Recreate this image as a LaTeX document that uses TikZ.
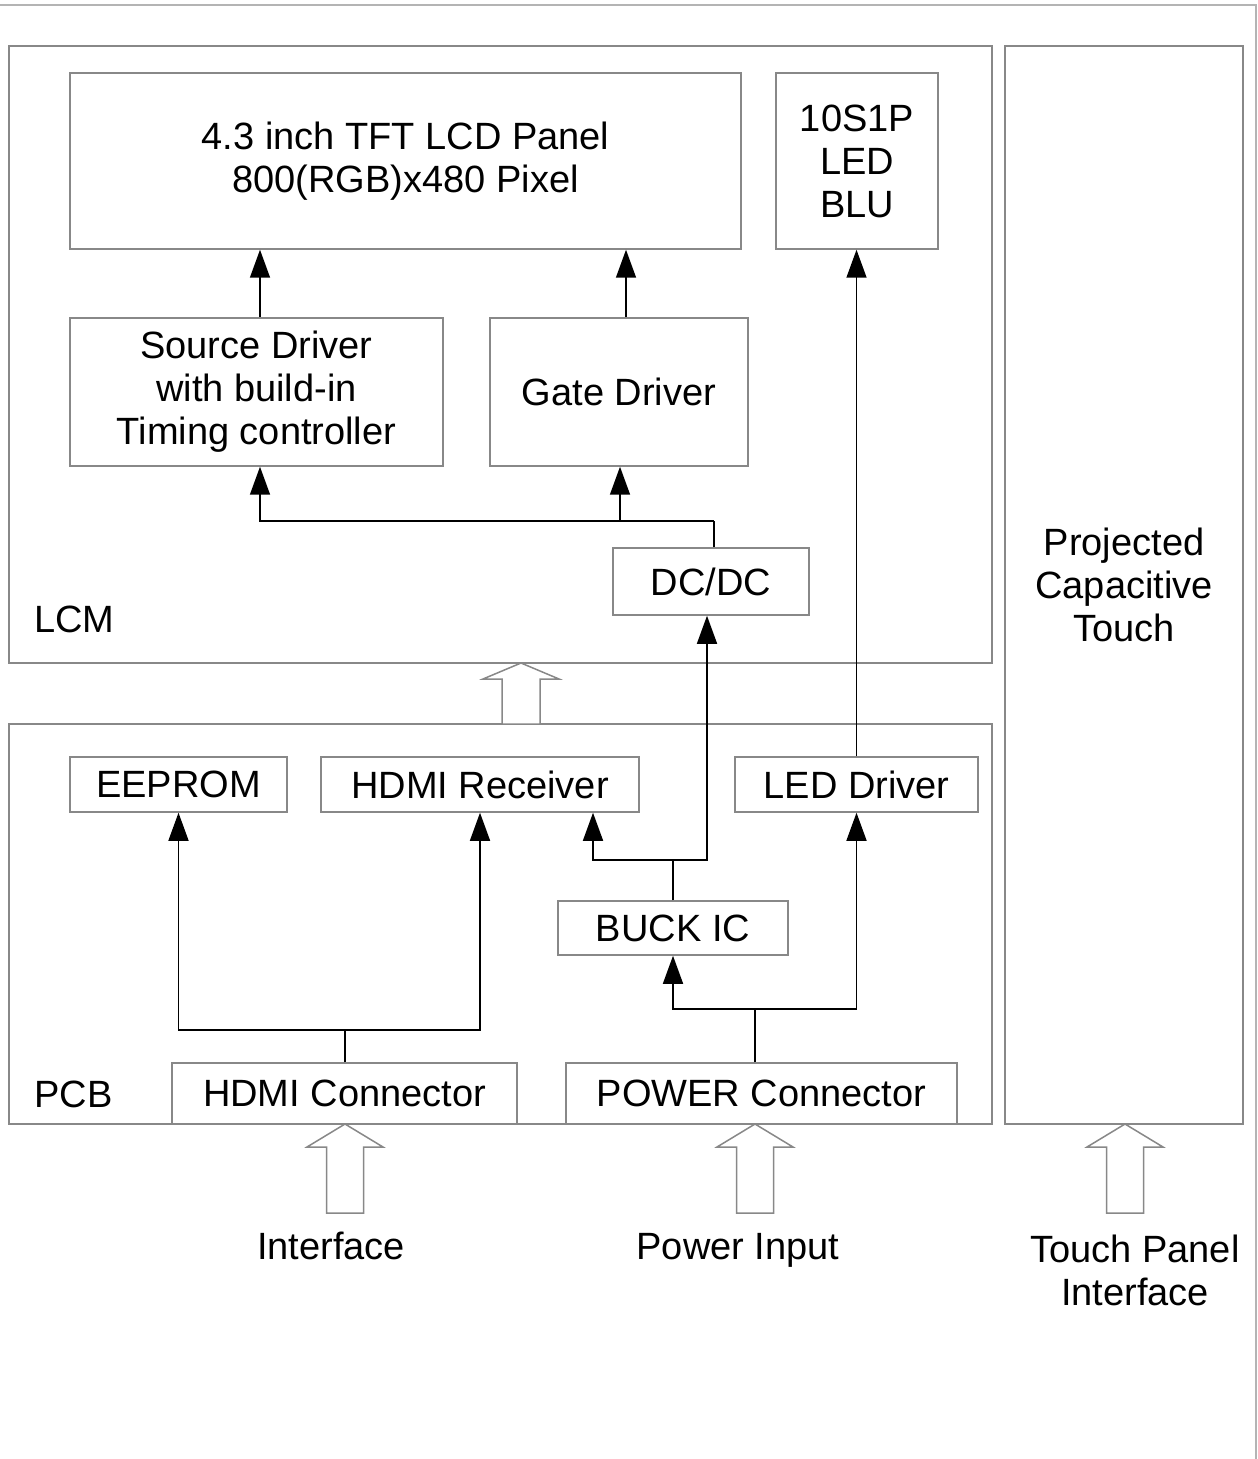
\documentclass[tikz,border=0pt]{standalone}
\usepackage{fontspec}
\setmainfont{Liberation Sans}
\usetikzlibrary{arrows.meta}
\definecolor{boxgray}{HTML}{888888}
\definecolor{edgegray}{HTML}{B4B4B4}
\newcommand\lab{\fontsize{19}{21.5}\selectfont}
\tikzset{
  box/.style={draw=boxgray, line width=0.75pt, inner sep=0pt, align=center, font=\lab},
  txt/.style={inner sep=0pt, align=center, font=\lab},
  conn/.style={draw=black, line width=0.75pt},
  arr/.style={conn, -{Triangle[length=14pt,width=10pt]}},
  hollow/.style={draw=boxgray, line width=0.75pt, fill=white, line join=miter},
}
\begin{document}
\begin{tikzpicture}[x=0.5pt,y=-0.5pt]
\useasboundingbox (0,0) rectangle (1257,1459);
% page edges
\draw[edgegray, line width=1pt] (0,5) -- (1257,5);
\draw[edgegray, line width=1pt] (1256,5) -- (1256,1459);
% outer groups
\node[box, minimum width=491.5pt, minimum height=308.5pt] (lcm) at (500.5,354.5) {};
\node[box, minimum width=491.5pt, minimum height=200pt] (pcb) at (500.5,924) {};
\node[box, minimum width=119pt, minimum height=539pt] (touch) at (1124,585) {Projected\\Capacitive\\Touch};
\node[txt, anchor=west] (lcmlab) at (34,619) {LCM};
\node[txt, anchor=west] (pcblab) at (34,1094) {PCB};
% LCM blocks
\node[box, minimum width=335.5pt, minimum height=88pt] (lcd) at (405.5,161) {4.3 inch TFT LCD Panel\\800(RGB)x480 Pixel};
\node[box, minimum width=81pt, minimum height=88pt] (blu) at (857,161) {10S1P\\LED\\BLU};
\node[box, minimum width=186.5pt, minimum height=74pt] (src) at (256.5,392) {Source Driver\\with build-in\\Timing controller};
\node[box, minimum width=129pt, minimum height=74pt] (gate) at (619,392) {Gate Driver};
\node[box, minimum width=98pt, minimum height=33.5pt] (dcdc) at (711,581.5) {DC/DC};
% PCB blocks
\node[box, minimum width=108.5pt, minimum height=27.5pt] (eeprom) at (178.5,784.5) {EEPROM};
\node[box, minimum width=159pt, minimum height=27.5pt] (hdmirx) at (480,784.5) {HDMI Receiver};
\node[box, minimum width=121.5pt, minimum height=27.5pt] (leddrv) at (856.5,784.5) {LED Driver};
\node[box, minimum width=115pt, minimum height=27pt] (buck) at (673,928) {BUCK IC};
\node[box, minimum width=172.5pt, minimum height=30.5pt] (hdmic) at (344.5,1093.5) {HDMI Connector};
\node[box, minimum width=195.5pt, minimum height=30.5pt] (pwrc) at (761.5,1093.5) {POWER Connector};
% helper coordinates
\coordinate (xs) at (260,0);
\coordinate (xg) at (626,0);
\coordinate (xd) at (714,0);
\coordinate (xgb) at (620,0);
\coordinate (jd) at (714,521);
\coordinate (xh) at (593,0);
\coordinate (xdd) at (707,0);
\coordinate (jb) at (673,860);
\coordinate (jh) at (345,1030);
\coordinate (xp) at (755,0);
\coordinate (jp) at (755,1009);
\coordinate (xl) at (856.5,0);
% LCM connectors
\draw[arr] (src.north -| xs) -- (lcd.south -| xs);
\draw[arr] (gate.north -| xg) -- (lcd.south -| xg);
\draw[conn] (dcdc.north -| xd) -- (jd);
\draw[arr] (jd) -| (src.south -| xs);
\draw[arr] (jd -| xgb) -- (gate.south -| xgb);
\draw[arr] (leddrv.north -| xl) -- (blu.south -| xl);
% PCB connectors
\draw[conn] (hdmic.north -| jh) -- (jh);
\draw[arr] (jh) -| (eeprom.south);
\draw[arr] (jh) -| (hdmirx.south);
\draw[conn] (pwrc.north -| xp) -- (jp);
\draw[arr] (jp) -| (buck.south);
\draw[arr] (jp) -| (leddrv.south -| xl);
\draw[conn] (buck.north) -- (jb);
\draw[arr] (jb) -| (hdmirx.south -| xh);
\draw[arr] (jb) -| (dcdc.south -| xdd);
% hollow arrows
\draw[hollow] (521,663) -- (559,679) -- (540,679) -- (540,724) -- (502,724) -- (502,679) -- (483,679) -- cycle;
\draw[hollow] (345,1124) -- (383,1147) -- (363.5,1147) -- (363.5,1213) -- (326.5,1213) -- (326.5,1147) -- (307,1147) -- cycle;
\draw[hollow] (755,1124) -- (793,1147) -- (773.5,1147) -- (773.5,1213) -- (736.5,1213) -- (736.5,1147) -- (717,1147) -- cycle;
\draw[hollow] (1125,1124) -- (1163,1147) -- (1143.5,1147) -- (1143.5,1213) -- (1106.5,1213) -- (1106.5,1147) -- (1087,1147) -- cycle;
% bottom labels
\node[txt, anchor=base] (iflab) at (331,1259) {Interface};
\node[txt, anchor=base] (pilab) at (738,1259) {Power Input};
\node[txt] (tplab) at (1135,1270) {Touch Panel\\Interface};
\end{tikzpicture}
\end{document}
